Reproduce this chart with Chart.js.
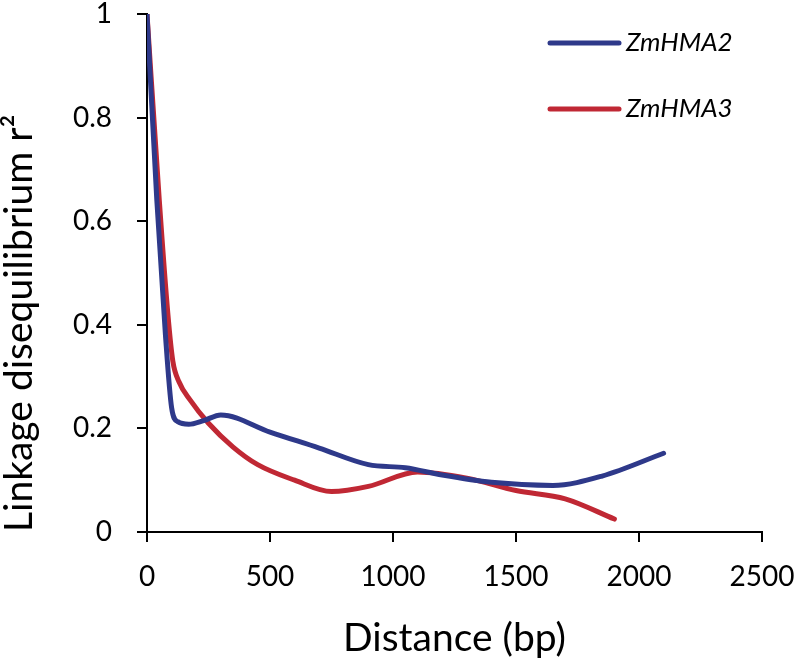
<!DOCTYPE html>
<html>
<head>
<meta charset="utf-8">
<script src="https://cdn.jsdelivr.net/npm/chart.js@4"></script>
<style>
  html, body { margin: 0; padding: 0; background: #fff; }
  #wrap { width: 800px; height: 662px; }
</style>
</head>
<body>
<div id="wrap"><canvas id="ld-chart"></canvas></div>
<script>
'use strict'

// distance (bp) / r2
const hma2Dist = [0, 40, 75, 100, 125, 170, 230, 300, 500, 700, 900, 1050, 1200, 1400, 1650, 1850, 2100];
const hma2R2   = [1.0, 0.64, 0.38, 0.24, 0.213, 0.208, 0.215, 0.226, 0.193, 0.162, 0.13, 0.124, 0.11, 0.096, 0.09, 0.108, 0.152];

const hma3Dist = [0, 50, 85, 105, 130, 175, 250, 350, 450, 600, 750, 900, 1100, 1300, 1500, 1700, 1900];
const hma3R2   = [1.0, 0.64, 0.42, 0.33, 0.29, 0.255, 0.21, 0.164, 0.13, 0.1, 0.078, 0.088, 0.116, 0.104, 0.08, 0.064, 0.025];

const xTicks = [0, 500, 1000, 1500, 2000, 2500];
const yTicks = [0, 0.2, 0.4, 0.6, 0.8, 1];

const toPoints = (xs, ys) => xs.map((x, i) => ({ x: x, y: ys[i] }));

const fontFamily = 'Lato, "Open Sans", sans-serif';

// legend drawn in the top-right, one row per series
const sideLegend = {
    id: 'sideLegend',
    afterDraw(chart) {
        const c = chart.ctx;
        c.save();
        chart.data.datasets.forEach((ds, i) => {
            const y = 43 + i * 66;
            c.strokeStyle = ds.borderColor;
            c.lineWidth = 5;
            c.lineCap = 'round';
            c.beginPath();
            c.moveTo(550, y);
            c.lineTo(619, y);
            c.stroke();
            c.fillStyle = '#000';
            c.font = 'italic 26px ' + fontFamily;
            c.textBaseline = 'middle';
            c.fillText(ds.label, 626, y);
        });
        c.restore();
    }
};

const ctx = document.getElementById('ld-chart').getContext('2d');
const ldChart = new Chart(ctx, {
    type: 'scatter',
    data: {
        datasets: [
            {
                label: 'ZmHMA2',
                data: toPoints(hma2Dist, hma2R2),
                borderColor: 'rgb(46, 57, 138)',
                showLine: true,
                pointRadius: 0,
                borderWidth: 5,
                cubicInterpolationMode: 'monotone',
                borderCapStyle: 'round'
            },
            {
                label: 'ZmHMA3',
                data: toPoints(hma3Dist, hma3R2),
                borderColor: 'rgb(192, 40, 52)',
                showLine: true,
                pointRadius: 0,
                borderWidth: 5,
                cubicInterpolationMode: 'monotone',
                borderCapStyle: 'round'
            }
        ]
    },
    options: {
        responsive: true,
        maintainAspectRatio: false,
        animation: false,
        layout: { padding: { top: 14, right: 38, left: 0, bottom: 0 } },
        plugins: {
            legend: { display: false },
            tooltip: { enabled: false }
        },
        scales: {
            x: {
                type: 'linear',
                min: 0,
                max: 2500,
                afterFit: s => { s.height = 130; s.paddingLeft = 0; s.paddingRight = 0; },
                afterBuildTicks: s => { s.ticks = xTicks.map(v => ({ value: v })); },
                border: { display: true, color: '#000', width: 2 },
                grid: { drawOnChartArea: false, drawTicks: true, tickLength: 10, color: '#000', lineWidth: 2 },
                ticks: { color: '#000', padding: 18, font: { family: fontFamily, size: 28 }, maxRotation: 0, callback: v => String(v) },
                title: {
                    display: true,
                    text: 'Distance (bp)',
                    color: '#000',
                    font: { family: fontFamily, size: 39 },
                    padding: { top: 0, bottom: 0 }
                }
            },
            y: {
                type: 'linear',
                min: 0,
                max: 1,
                afterFit: s => { s.width = 147; s.paddingTop = 0; s.paddingBottom = 0; },
                afterBuildTicks: s => { s.ticks = yTicks.map(v => ({ value: v })); },
                border: { display: true, color: '#000', width: 2 },
                grid: { drawOnChartArea: false, drawTicks: true, tickLength: 10, color: '#000', lineWidth: 2 },
                ticks: { color: '#000', padding: 25, font: { family: fontFamily, size: 28 }, callback: v => String(v) },
                title: {
                    display: true,
                    text: 'Linkage disequilibrium r²',
                    align: 'start',
                    color: '#000',
                    font: { family: fontFamily, size: 39, lineHeight: 1 },
                    padding: { top: 0, bottom: 0 }
                }
            }
        }
    },
    plugins: [sideLegend]
});
</script>
</body>
</html>
